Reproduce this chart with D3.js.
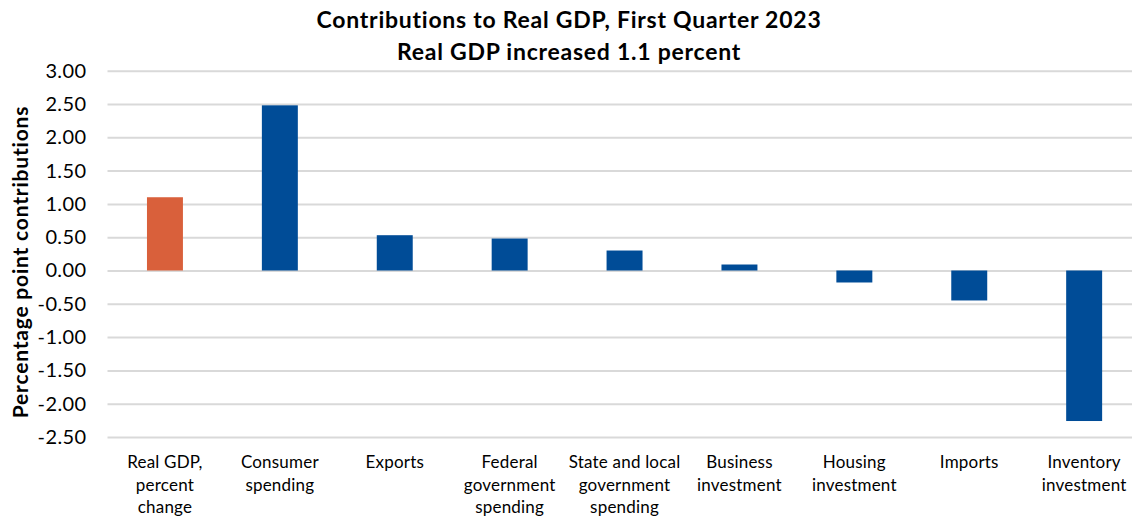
<!DOCTYPE html>
<html><head><meta charset="utf-8">
<script src="https://cdn.jsdelivr.net/npm/d3@7"></script>
<style>html,body{margin:0;padding:0;background:#fff;overflow:hidden}</style>
</head><body>
<svg id="c" width="1132" height="517"></svg>
<script>
const categories = [
  ["Real GDP,", "percent", "change"],
  ["Consumer", "spending"],
  ["Exports"],
  ["Federal", "government", "spending"],
  ["State and local", "government", "spending"],
  ["Business", "investment"],
  ["Housing", "investment"],
  ["Imports"],
  ["Inventory", "investment"]
];
const values = [1.10, 2.48, 0.53, 0.48, 0.30, 0.09, -0.18, -0.45, -2.26];
const barColors = ["#D9603B", "#004C97", "#004C97", "#004C97", "#004C97", "#004C97", "#004C97", "#004C97", "#004C97"];
const yTicks = [3, 2.5, 2, 1.5, 1, 0.5, 0, -0.5, -1, -1.5, -2, -2.5];
const titleLines = ["Contributions to Real GDP, First Quarter 2023", "Real GDP increased 1.1 percent"];
const yTitle = "Percentage point contributions";

const font = "Lato, 'Open Sans', sans-serif";
const svg = d3.select("#c");
const ids = categories.map((d, i) => i);
const x = d3.scaleBand().domain(ids).range([107.5, 1141.6]).paddingInner(0.687).paddingOuter(0.3435);
const y = d3.scaleLinear().domain([-2.5, 3]).range([437, 70.7]);
const fmt = d3.formatLocale({decimal: ".", thousands: ",", grouping: [3], currency: ["$", ""], minus: "-"}).format(".2f");

// gridlines
const yAxis = d3.axisLeft(y).tickValues(yTicks).tickFormat(fmt).tickSize(-(1141.6 - 107.5)).tickPadding(22);
const g = svg.append("g").attr("transform", "translate(107.5,0)").call(yAxis);
g.select(".domain").remove();
g.selectAll(".tick line").attr("stroke", "#d9d9d9").attr("stroke-width", 2);
g.selectAll(".tick text").attr("font-family", font).attr("font-size", 20).attr("letter-spacing", 0.4)
  .attr("fill", "#000").attr("x", -21);

// bars
svg.append("g").selectAll("rect").data(values).join("rect")
  .attr("x", (d, i) => x(i))
  .attr("width", x.bandwidth())
  .attr("y", d => y(Math.max(0, d)))
  .attr("height", d => Math.abs(y(d) - y(0)))
  .attr("fill", (d, i) => barColors[i]);

// x labels
const xl = svg.append("g").selectAll("text").data(categories).join("text")
  .attr("font-family", font).attr("font-size", 17).attr("letter-spacing", 0.2)
  .attr("text-anchor", "middle").attr("fill", "#000");
xl.each(function(lines, i) {
  const t = d3.select(this);
  lines.forEach((l, j) => {
    t.append("tspan").attr("x", x(i) + x.bandwidth() / 2).attr("y", 468 + j * 22.5).text(l);
  });
});

// title
svg.append("g").selectAll("text").data(titleLines).join("text")
  .attr("x", 569).attr("y", (d, i) => 28 + i * 32)
  .attr("text-anchor", "middle").attr("font-family", font).attr("font-weight", "bold").attr("font-size", 23)
  .attr("letter-spacing", 0.75)
  .attr("fill", "#000").text(d => d);

// y title
svg.append("text").attr("transform", "translate(28,262) rotate(-90)")
  .attr("text-anchor", "middle").attr("font-family", font).attr("font-weight", "bold").attr("font-size", 21)
  .attr("letter-spacing", 0.8)
  .attr("fill", "#000").text(yTitle);
</script>
</body></html>
